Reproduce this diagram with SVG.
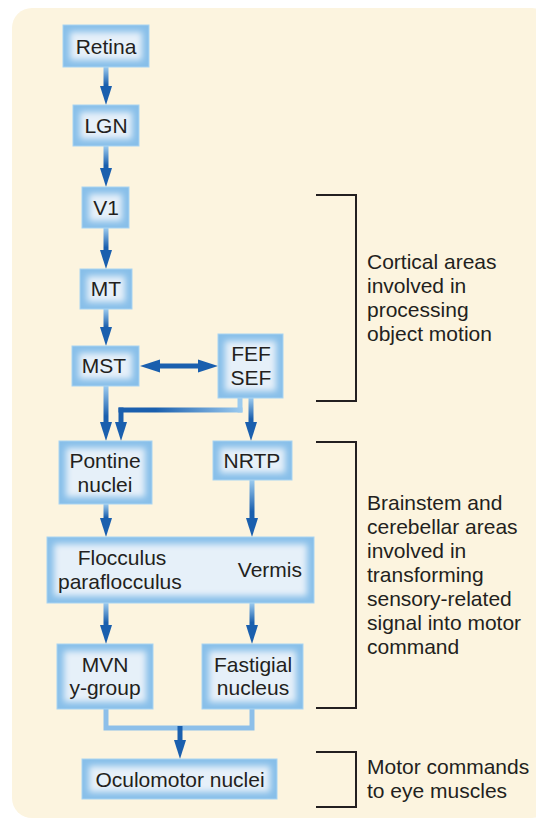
<svg xmlns="http://www.w3.org/2000/svg" width="536" height="819" viewBox="0 0 536 819">
  <style>
    .frame { fill: #88bfe9; stroke: #a8d3f2; stroke-width: 1; }
    .face { fill: #e6f0f9; filter: url(#soft); }
    .lbl { font-family: "Liberation Sans", Arial, sans-serif; font-size: 21px; fill: #231f20; }
    .mid { text-anchor: middle; }
    .note { font-family: "Liberation Sans", Arial, sans-serif; font-size: 21px; fill: #231f20; }
    .brk { fill: none; stroke: #231f20; stroke-width: 2; }
    .head { fill: #1a5fae; }
    .shaft { fill: url(#fadeDown); }
    .solid { fill: #1a5fae; }
    .pale { fill: none; stroke: #8dbfe9; stroke-width: 5; }
  </style>
  <defs>
    <filter id="soft" x="-20%" y="-30%" width="140%" height="160%">
      <feGaussianBlur stdDeviation="3"/>
    </filter>
    <linearGradient id="fadeDown" x1="0" y1="0" x2="0" y2="1">
      <stop offset="0" stop-color="#9ccbef"/>
      <stop offset="0.75" stop-color="#1a5fae"/>
      <stop offset="1" stop-color="#1a5fae"/>
    </linearGradient>
    <linearGradient id="fadeLeft" x1="1" y1="0" x2="0" y2="0">
      <stop offset="0" stop-color="#9ccbef"/>
      <stop offset="0.7" stop-color="#1a5fae"/>
      <stop offset="1" stop-color="#1a5fae"/>
    </linearGradient>
  </defs>

  <!-- cream panel -->
  <rect x="12" y="8" width="540" height="810" rx="20" fill="#fcf4df"/>

  <!-- connectors -->
  <g id="connectors">
    <!-- Retina -> LGN -->
    <rect class="shaft" x="103.5" y="67" width="5" height="24"/>
    <polygon class="head" points="100,86 112,86 106,105"/>
    <!-- LGN -> V1 -->
    <rect class="shaft" x="103.5" y="146" width="5" height="26"/>
    <polygon class="head" points="100,168 112,168 106,187"/>
    <!-- V1 -> MT -->
    <rect class="shaft" x="103.5" y="228" width="5" height="26"/>
    <polygon class="head" points="100,250 112,250 106,269"/>
    <!-- MT -> MST -->
    <rect class="shaft" x="103.5" y="309" width="5" height="24"/>
    <polygon class="head" points="100,327 112,327 106,346"/>
    <!-- MST <-> FEF/SEF -->
    <rect class="solid" x="155" y="363.5" width="48" height="5"/>
    <polygon class="head" points="140,366 160,359.5 160,372.5"/>
    <polygon class="head" points="218,366 198,359.5 198,372.5"/>
    <!-- MST -> Pontine nuclei -->
    <rect class="shaft" x="103.5" y="386" width="5" height="40"/>
    <polygon class="head" points="100,422 112,422 106,441"/>
    <!-- FEF/SEF -> Pontine nuclei -->
    <rect x="237.5" y="398" width="5" height="14.5" fill="#9ccbef"/>
    <rect x="118.5" y="407.5" width="124" height="5" fill="url(#fadeLeft)"/>
    <rect class="solid" x="118.5" y="407.5" width="5" height="18"/>
    <polygon class="head" points="115,422 127,422 121,441"/>
    <!-- FEF/SEF -> NRTP -->
    <rect class="shaft" x="248.5" y="398" width="5" height="28"/>
    <polygon class="head" points="245,422 257,422 251,441"/>
    <!-- Pontine nuclei -> cerebellum -->
    <rect class="shaft" x="103.5" y="504" width="5" height="18"/>
    <polygon class="head" points="100,518 112,518 106,537"/>
    <!-- NRTP -> cerebellum -->
    <rect class="shaft" x="249.5" y="480" width="5" height="42"/>
    <polygon class="head" points="246,518 258,518 252,537"/>
    <!-- cerebellum -> MVN -->
    <rect class="shaft" x="103.5" y="603" width="5" height="26"/>
    <polygon class="head" points="100,625 112,625 106,644"/>
    <!-- cerebellum -> Fastigial -->
    <rect class="shaft" x="249.5" y="603" width="5" height="26"/>
    <polygon class="head" points="246,625 258,625 252,644"/>
    <!-- MVN + Fastigial -> Oculomotor -->
    <path class="pale" d="M106,709 V728 H252 V709"/>
    <rect class="solid" x="177.5" y="726" width="5" height="18"/>
    <polygon class="head" points="174,740 186,740 180,759"/>
  </g>

  <!-- nodes -->
  <g id="retina">
    <rect class="frame" x="63" y="25" width="86" height="42"/>
    <rect class="face" x="70" y="32" width="72" height="28"/>
    <text class="lbl mid" x="106" y="54">Retina</text>
  </g>
  <g id="lgn">
    <rect class="frame" x="73" y="105" width="66" height="41"/>
    <rect class="face" x="80" y="112" width="52" height="27"/>
    <text class="lbl mid" x="106" y="133">LGN</text>
  </g>
  <g id="v1">
    <rect class="frame" x="82" y="187" width="47" height="41"/>
    <rect class="face" x="89" y="194" width="33" height="27"/>
    <text class="lbl mid" x="106" y="215">V1</text>
  </g>
  <g id="mt">
    <rect class="frame" x="80" y="269" width="52" height="40"/>
    <rect class="face" x="87" y="276" width="38" height="26"/>
    <text class="lbl mid" x="106" y="296">MT</text>
  </g>
  <g id="mst">
    <rect class="frame" x="72" y="346" width="67" height="40"/>
    <rect class="face" x="79" y="353" width="53" height="26"/>
    <text class="lbl mid" x="104" y="373">MST</text>
  </g>
  <g id="fef-sef">
    <rect class="frame" x="218" y="334" width="65" height="64"/>
    <rect class="face" x="225" y="341" width="51" height="50"/>
    <text class="lbl mid" x="251" y="361">FEF</text>
    <text class="lbl mid" x="251" y="385">SEF</text>
  </g>
  <g id="pontine">
    <rect class="frame" x="59" y="441" width="93" height="63"/>
    <rect class="face" x="66" y="448" width="79" height="49"/>
    <text class="lbl mid" x="105" y="468">Pontine</text>
    <text class="lbl mid" x="105" y="492">nuclei</text>
  </g>
  <g id="nrtp">
    <rect class="frame" x="213" y="441" width="79" height="39"/>
    <rect class="face" x="220" y="448" width="65" height="25"/>
    <text class="lbl mid" x="252" y="468">NRTP</text>
  </g>
  <g id="cerebellum">
    <rect class="frame" x="47" y="537" width="267" height="66"/>
    <rect class="face" x="54" y="544" width="253" height="52"/>
    <text class="lbl mid" x="122" y="565">Flocculus</text>
    <text class="lbl" x="58" y="589">paraflocculus</text>
    <text class="lbl" x="302" y="577" text-anchor="end">Vermis</text>
  </g>
  <g id="mvn">
    <rect class="frame" x="57" y="644" width="96" height="65"/>
    <rect class="face" x="64" y="651" width="82" height="51"/>
    <text class="lbl mid" x="105" y="672">MVN</text>
    <text class="lbl mid" x="105" y="695">y-group</text>
  </g>
  <g id="fastigial">
    <rect class="frame" x="202" y="644" width="101" height="65"/>
    <rect class="face" x="209" y="651" width="87" height="51"/>
    <text class="lbl mid" x="253" y="672">Fastigial</text>
    <text class="lbl mid" x="253" y="695">nucleus</text>
  </g>
  <g id="oculomotor">
    <rect class="frame" x="82" y="759" width="195" height="40"/>
    <rect class="face" x="89" y="766" width="181" height="26"/>
    <text class="lbl mid" x="180" y="787">Oculomotor nuclei</text>
  </g>

  <!-- brackets and their notes -->
  <g id="cortical-note">
    <path class="brk" d="M316,195 H356 V401 H316"/>
    <text class="note" x="367" y="269">Cortical areas</text>
    <text class="note" x="367" y="293">involved in</text>
    <text class="note" x="367" y="317">processing</text>
    <text class="note" x="367" y="341">object motion</text>
  </g>
  <g id="brainstem-note">
    <path class="brk" d="M316,442 H356 V708 H316"/>
    <text class="note" x="367" y="510">Brainstem and</text>
    <text class="note" x="367" y="534">cerebellar areas</text>
    <text class="note" x="367" y="558">involved in</text>
    <text class="note" x="367" y="582">transforming</text>
    <text class="note" x="367" y="606">sensory-related</text>
    <text class="note" x="367" y="630">signal into motor</text>
    <text class="note" x="367" y="654">command</text>
  </g>
  <g id="motor-note">
    <path class="brk" d="M316,752 H356 V807 H316"/>
    <text class="note" x="367" y="774">Motor commands</text>
    <text class="note" x="367" y="798">to eye muscles</text>
  </g>
</svg>
